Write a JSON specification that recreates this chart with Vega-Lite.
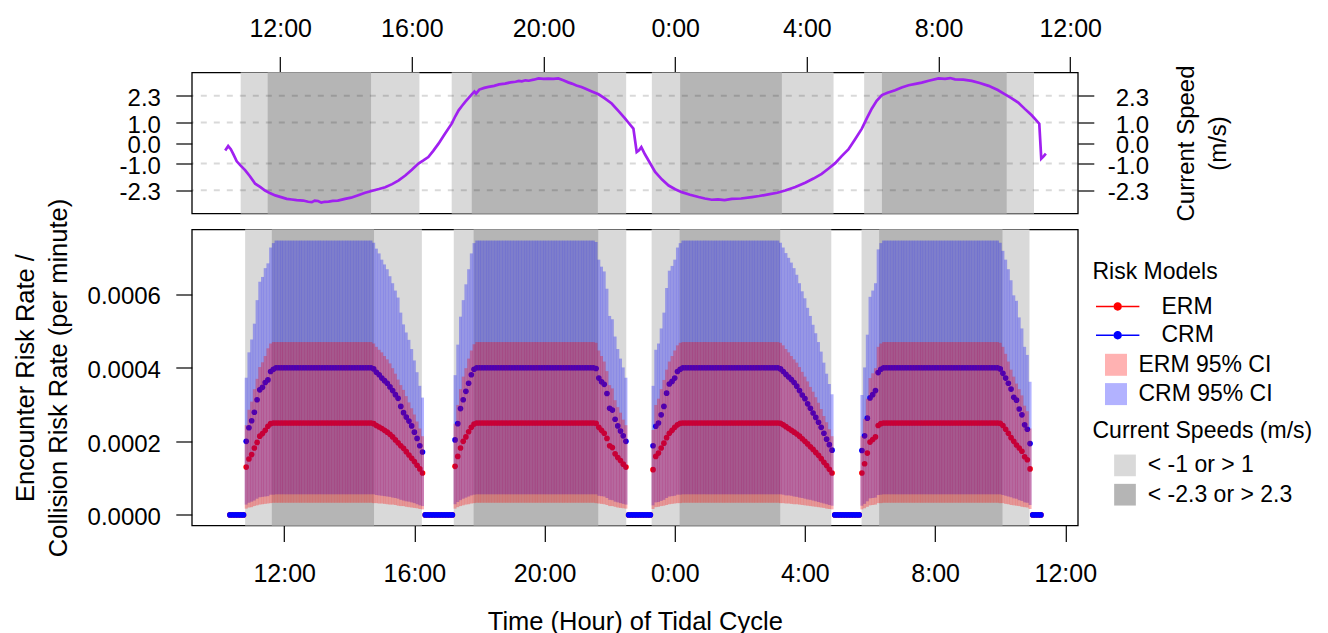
{
"$schema": "https://vega.github.io/schema/vega-lite/v6.json",
"background": "white",
"padding": {"left": 12.8, "top": 14.5, "right": 5, "bottom": 0},
"config": {
  "view": {"stroke": "black", "strokeWidth": 1.3},
  "font": "Liberation Sans",
  "axis": {"domain": false, "grid": false, "tickColor": "black", "tickWidth": 1.2, "tickSize": 16, "labelColor": "black", "labelFont": "Liberation Sans", "titleFont": "Liberation Sans", "titleFontWeight": "normal", "titleColor": "black", "labelFlush": false, "labelOverlap": false},
  "legend": {"labelFont": "Liberation Sans", "titleFont": "Liberation Sans", "titleFontWeight": "normal", "labelColor": "black", "titleColor": "black", "labelFontSize": 23, "titleFontSize": 23, "padding": 0, "titleLimit": 400, "labelLimit": 400}
},
"datasets": {
"bands": [
{"start":10.80,"end":16.23,"kind":"< -1 or > 1"},
{"start":17.21,"end":22.51,"kind":"< -1 or > 1"},
{"start":23.29,"end":28.81,"kind":"< -1 or > 1"},
{"start":29.74,"end":34.90,"kind":"< -1 or > 1"},
{"start":11.62,"end":14.76,"kind":"< -2.3 or > 2.3"},
{"start":17.82,"end":21.65,"kind":"< -2.3 or > 2.3"},
{"start":24.15,"end":27.24,"kind":"< -2.3 or > 2.3"},
{"start":30.28,"end":34.07,"kind":"< -2.3 or > 2.3"}
],
"grid": [{"v":2.3},{"v":1},{"v":-1},{"v":-2.3}],
"speed": [
{"t":10.33,"s":-0.36},{"t":10.42,"s":-0.15},{"t":10.5,"s":-0.3},{"t":10.58,"s":-0.55},{"t":10.68,"s":-0.89},{"t":10.8,"s":-1.1},{"t":10.94,"s":-1.33},{"t":11.08,"s":-1.62},{"t":11.24,"s":-1.98},{"t":11.4,"s":-2.15},{"t":11.54,"s":-2.31},{"t":11.7,"s":-2.45},{"t":11.85,"s":-2.55},{"t":12.0,"s":-2.62},{"t":12.2,"s":-2.72},{"t":12.35,"s":-2.75},{"t":12.5,"s":-2.78},{"t":12.7,"s":-2.8},{"t":12.85,"s":-2.86},{"t":12.96,"s":-2.88},{"t":13.05,"s":-2.8},{"t":13.15,"s":-2.82},{"t":13.25,"s":-2.9},{"t":13.35,"s":-2.86},{"t":13.47,"s":-2.85},{"t":13.6,"s":-2.82},{"t":13.75,"s":-2.8},{"t":13.97,"s":-2.72},{"t":14.15,"s":-2.66},{"t":14.35,"s":-2.55},{"t":14.58,"s":-2.42},{"t":14.8,"s":-2.32},{"t":15.0,"s":-2.24},{"t":15.19,"s":-2.15},{"t":15.4,"s":-2.0},{"t":15.6,"s":-1.82},{"t":15.8,"s":-1.58},{"t":16.0,"s":-1.3},{"t":16.2,"s":-1.0},{"t":16.35,"s":-0.85},{"t":16.5,"s":-0.68},{"t":16.65,"s":-0.38},{"t":16.81,"s":-0.03},{"t":17.01,"s":0.46},{"t":17.21,"s":0.94},{"t":17.32,"s":1.3},{"t":17.42,"s":1.59},{"t":17.52,"s":1.8},{"t":17.62,"s":2.0},{"t":17.72,"s":2.18},{"t":17.82,"s":2.37},{"t":17.9,"s":2.5},{"t":17.95,"s":2.4},{"t":18.05,"s":2.6},{"t":18.2,"s":2.68},{"t":18.33,"s":2.73},{"t":18.5,"s":2.78},{"t":18.65,"s":2.85},{"t":18.83,"s":2.89},{"t":19.0,"s":2.95},{"t":19.15,"s":2.98},{"t":19.25,"s":3.02},{"t":19.34,"s":3.0},{"t":19.45,"s":3.05},{"t":19.55,"s":3.03},{"t":19.7,"s":3.08},{"t":19.85,"s":3.14},{"t":20.0,"s":3.12},{"t":20.15,"s":3.13},{"t":20.3,"s":3.12},{"t":20.45,"s":3.14},{"t":20.6,"s":3.05},{"t":20.75,"s":2.95},{"t":20.86,"s":2.89},{"t":21.0,"s":2.8},{"t":21.15,"s":2.72},{"t":21.26,"s":2.65},{"t":21.45,"s":2.52},{"t":21.67,"s":2.37},{"t":21.85,"s":2.18},{"t":22.07,"s":1.92},{"t":22.28,"s":1.55},{"t":22.48,"s":1.19},{"t":22.6,"s":0.95},{"t":22.73,"s":0.7},{"t":22.83,"s":-0.44},{"t":22.9,"s":-0.35},{"t":22.97,"s":-0.2},{"t":23.08,"s":-0.55},{"t":23.19,"s":-0.85},{"t":23.39,"s":-1.41},{"t":23.6,"s":-1.78},{"t":23.8,"s":-2.07},{"t":24.0,"s":-2.25},{"t":24.2,"s":-2.39},{"t":24.45,"s":-2.52},{"t":24.71,"s":-2.63},{"t":24.9,"s":-2.7},{"t":25.11,"s":-2.76},{"t":25.3,"s":-2.74},{"t":25.5,"s":-2.78},{"t":25.72,"s":-2.72},{"t":26.0,"s":-2.7},{"t":26.33,"s":-2.63},{"t":26.55,"s":-2.58},{"t":26.83,"s":-2.5},{"t":27.1,"s":-2.42},{"t":27.34,"s":-2.31},{"t":27.65,"s":-2.14},{"t":27.95,"s":-1.93},{"t":28.2,"s":-1.73},{"t":28.45,"s":-1.5},{"t":28.65,"s":-1.25},{"t":28.86,"s":-0.98},{"t":29.05,"s":-0.65},{"t":29.26,"s":-0.31},{"t":29.45,"s":0.15},{"t":29.67,"s":0.7},{"t":29.82,"s":1.2},{"t":29.97,"s":1.67},{"t":30.12,"s":2.05},{"t":30.28,"s":2.33},{"t":30.45,"s":2.45},{"t":30.68,"s":2.57},{"t":30.88,"s":2.7},{"t":31.09,"s":2.81},{"t":31.3,"s":2.88},{"t":31.49,"s":2.94},{"t":31.7,"s":3.03},{"t":32.0,"s":3.14},{"t":32.2,"s":3.12},{"t":32.35,"s":3.16},{"t":32.5,"s":3.1},{"t":32.75,"s":3.08},{"t":33.01,"s":3.02},{"t":33.25,"s":2.92},{"t":33.52,"s":2.78},{"t":33.8,"s":2.58},{"t":34.02,"s":2.37},{"t":34.2,"s":2.2},{"t":34.42,"s":1.97},{"t":34.62,"s":1.66},{"t":34.83,"s":1.35},{"t":35.06,"s":0.94},{"t":35.12,"s":-0.76},{"t":35.19,"s":-0.65},{"t":35.26,"s":-0.52}
],
"risk": [
{"t":10.333,"e":0,"c":0},{"t":10.417,"e":0,"c":0},{"t":10.5,"e":0,"c":0},{"t":10.583,"e":0,"c":0},{"t":10.667,"e":0,"c":0},{"t":10.75,"e":0,"c":0},
{"t":10.833,"e":0.00013,"c":0.0002,"el":0.000017,"eh":0.000244,"cl":0.000028,"ch":0.000373},
{"t":10.917,"e":0.000152,"c":0.000237,"el":0.00002,"eh":0.000286,"cl":0.000033,"ch":0.000442},
{"t":11.0,"e":0.000164,"c":0.000256,"el":0.000021,"eh":0.000308,"cl":0.000036,"ch":0.000477},
{"t":11.083,"e":0.000182,"c":0.000279,"el":0.000024,"eh":0.000342,"cl":0.000039,"ch":0.00052},
{"t":11.167,"e":0.000197,"c":0.000313,"el":0.000026,"eh":0.00037,"cl":0.000044,"ch":0.000584},
{"t":11.25,"e":0.000214,"c":0.00034,"el":0.000028,"eh":0.000402,"cl":0.000048,"ch":0.000634},
{"t":11.333,"e":0.000221,"c":0.000347,"el":0.000029,"eh":0.000415,"cl":0.000049,"ch":0.000647},
{"t":11.417,"e":0.00023,"c":0.00036,"el":0.00003,"eh":0.000432,"cl":0.00005,"ch":0.000671},
{"t":11.5,"e":0.000241,"c":0.000367,"el":0.000031,"eh":0.000453,"cl":0.000051,"ch":0.000684},
{"t":11.583,"e":0.000248,"c":0.00039,"el":0.000032,"eh":0.000466,"cl":0.000055,"ch":0.000727},
{"t":11.667,"e":0.00025,"c":0.000396,"el":0.000033,"eh":0.00047,"cl":0.000055,"ch":0.000739},
{"t":11.75,"e":0.00025,"c":0.0004,"el":0.000033,"eh":0.00047,"cl":0.000056,"ch":0.000746},
{"t":11.833,"e":0.00025,"c":0.0004,"el":0.000033,"eh":0.00047,"cl":0.000056,"ch":0.000746},
{"t":11.917,"e":0.00025,"c":0.0004,"el":0.000033,"eh":0.00047,"cl":0.000056,"ch":0.000746},
{"t":12.0,"e":0.00025,"c":0.0004,"el":0.000033,"eh":0.00047,"cl":0.000056,"ch":0.000746},
{"t":12.083,"e":0.00025,"c":0.0004,"el":0.000033,"eh":0.00047,"cl":0.000056,"ch":0.000746},
{"t":12.167,"e":0.00025,"c":0.0004,"el":0.000033,"eh":0.00047,"cl":0.000056,"ch":0.000746},
{"t":12.25,"e":0.00025,"c":0.0004,"el":0.000033,"eh":0.00047,"cl":0.000056,"ch":0.000746},
{"t":12.333,"e":0.00025,"c":0.0004,"el":0.000033,"eh":0.00047,"cl":0.000056,"ch":0.000746},
{"t":12.417,"e":0.00025,"c":0.0004,"el":0.000033,"eh":0.00047,"cl":0.000056,"ch":0.000746},
{"t":12.5,"e":0.00025,"c":0.0004,"el":0.000033,"eh":0.00047,"cl":0.000056,"ch":0.000746},
{"t":12.583,"e":0.00025,"c":0.0004,"el":0.000033,"eh":0.00047,"cl":0.000056,"ch":0.000746},
{"t":12.667,"e":0.00025,"c":0.0004,"el":0.000033,"eh":0.00047,"cl":0.000056,"ch":0.000746},
{"t":12.75,"e":0.00025,"c":0.0004,"el":0.000033,"eh":0.00047,"cl":0.000056,"ch":0.000746},
{"t":12.833,"e":0.00025,"c":0.0004,"el":0.000033,"eh":0.00047,"cl":0.000056,"ch":0.000746},
{"t":12.917,"e":0.00025,"c":0.0004,"el":0.000033,"eh":0.00047,"cl":0.000056,"ch":0.000746},
{"t":13.0,"e":0.00025,"c":0.0004,"el":0.000033,"eh":0.00047,"cl":0.000056,"ch":0.000746},
{"t":13.083,"e":0.00025,"c":0.0004,"el":0.000033,"eh":0.00047,"cl":0.000056,"ch":0.000746},
{"t":13.167,"e":0.00025,"c":0.0004,"el":0.000033,"eh":0.00047,"cl":0.000056,"ch":0.000746},
{"t":13.25,"e":0.00025,"c":0.0004,"el":0.000033,"eh":0.00047,"cl":0.000056,"ch":0.000746},
{"t":13.333,"e":0.00025,"c":0.0004,"el":0.000033,"eh":0.00047,"cl":0.000056,"ch":0.000746},
{"t":13.417,"e":0.00025,"c":0.0004,"el":0.000033,"eh":0.00047,"cl":0.000056,"ch":0.000746},
{"t":13.5,"e":0.00025,"c":0.0004,"el":0.000033,"eh":0.00047,"cl":0.000056,"ch":0.000746},
{"t":13.583,"e":0.00025,"c":0.0004,"el":0.000033,"eh":0.00047,"cl":0.000056,"ch":0.000746},
{"t":13.667,"e":0.00025,"c":0.0004,"el":0.000033,"eh":0.00047,"cl":0.000056,"ch":0.000746},
{"t":13.75,"e":0.00025,"c":0.0004,"el":0.000033,"eh":0.00047,"cl":0.000056,"ch":0.000746},
{"t":13.833,"e":0.00025,"c":0.0004,"el":0.000033,"eh":0.00047,"cl":0.000056,"ch":0.000746},
{"t":13.917,"e":0.00025,"c":0.0004,"el":0.000033,"eh":0.00047,"cl":0.000056,"ch":0.000746},
{"t":14.0,"e":0.00025,"c":0.0004,"el":0.000033,"eh":0.00047,"cl":0.000056,"ch":0.000746},
{"t":14.083,"e":0.00025,"c":0.0004,"el":0.000033,"eh":0.00047,"cl":0.000056,"ch":0.000746},
{"t":14.167,"e":0.00025,"c":0.0004,"el":0.000033,"eh":0.00047,"cl":0.000056,"ch":0.000746},
{"t":14.25,"e":0.00025,"c":0.0004,"el":0.000033,"eh":0.00047,"cl":0.000056,"ch":0.000746},
{"t":14.333,"e":0.00025,"c":0.0004,"el":0.000033,"eh":0.00047,"cl":0.000056,"ch":0.000746},
{"t":14.417,"e":0.00025,"c":0.0004,"el":0.000033,"eh":0.00047,"cl":0.000056,"ch":0.000746},
{"t":14.5,"e":0.00025,"c":0.0004,"el":0.000033,"eh":0.00047,"cl":0.000056,"ch":0.000746},
{"t":14.583,"e":0.00025,"c":0.0004,"el":0.000033,"eh":0.00047,"cl":0.000056,"ch":0.000746},
{"t":14.667,"e":0.00025,"c":0.0004,"el":0.000033,"eh":0.00047,"cl":0.000056,"ch":0.000746},
{"t":14.75,"e":0.000248,"c":0.000397,"el":0.000032,"eh":0.000466,"cl":0.000056,"ch":0.00074},
{"t":14.833,"e":0.000243,"c":0.000388,"el":0.000032,"eh":0.000457,"cl":0.000054,"ch":0.000724},
{"t":14.917,"e":0.000239,"c":0.000381,"el":0.000031,"eh":0.000449,"cl":0.000053,"ch":0.000711},
{"t":15.0,"e":0.000235,"c":0.000372,"el":0.000031,"eh":0.000442,"cl":0.000052,"ch":0.000694},
{"t":15.083,"e":0.00023,"c":0.000365,"el":0.00003,"eh":0.000432,"cl":0.000051,"ch":0.000681},
{"t":15.167,"e":0.000225,"c":0.000358,"el":0.000029,"eh":0.000423,"cl":0.00005,"ch":0.000668},
{"t":15.25,"e":0.000219,"c":0.000348,"el":0.000028,"eh":0.000412,"cl":0.000049,"ch":0.000649},
{"t":15.333,"e":0.000212,"c":0.000338,"el":0.000028,"eh":0.000399,"cl":0.000047,"ch":0.00063},
{"t":15.417,"e":0.000204,"c":0.000327,"el":0.000027,"eh":0.000384,"cl":0.000046,"ch":0.00061},
{"t":15.5,"e":0.000196,"c":0.000317,"el":0.000025,"eh":0.000368,"cl":0.000044,"ch":0.000591},
{"t":15.583,"e":0.000188,"c":0.000295,"el":0.000024,"eh":0.000353,"cl":0.000041,"ch":0.00055},
{"t":15.667,"e":0.000181,"c":0.000278,"el":0.000024,"eh":0.00034,"cl":0.000039,"ch":0.000518},
{"t":15.75,"e":0.000172,"c":0.000266,"el":0.000022,"eh":0.000323,"cl":0.000037,"ch":0.000496},
{"t":15.833,"e":0.000163,"c":0.000255,"el":0.000021,"eh":0.000306,"cl":0.000036,"ch":0.000476},
{"t":15.917,"e":0.000154,"c":0.000242,"el":0.00002,"eh":0.00029,"cl":0.000034,"ch":0.000451},
{"t":16.0,"e":0.000145,"c":0.000225,"el":0.000019,"eh":0.000273,"cl":0.000032,"ch":0.00042},
{"t":16.083,"e":0.000135,"c":0.000208,"el":0.000018,"eh":0.000254,"cl":0.000029,"ch":0.000388},
{"t":16.167,"e":0.000125,"c":0.000188,"el":0.000016,"eh":0.000235,"cl":0.000026,"ch":0.000351},
{"t":16.25,"e":0.000114,"c":0.000171,"el":0.000015,"eh":0.000214,"cl":0.000024,"ch":0.000319},
{"t":16.333,"e":0,"c":0},{"t":16.417,"e":0,"c":0},{"t":16.5,"e":0,"c":0},{"t":16.583,"e":0,"c":0},{"t":16.667,"e":0,"c":0},{"t":16.75,"e":0,"c":0},{"t":16.833,"e":0,"c":0},{"t":16.917,"e":0,"c":0},{"t":17.0,"e":0,"c":0},{"t":17.083,"e":0,"c":0},{"t":17.167,"e":0,"c":0},
{"t":17.25,"e":0.000132,"c":0.000204,"el":0.000017,"eh":0.000248,"cl":0.000029,"ch":0.00038},
{"t":17.333,"e":0.000159,"c":0.000248,"el":0.000021,"eh":0.000299,"cl":0.000035,"ch":0.000463},
{"t":17.417,"e":0.000182,"c":0.000289,"el":0.000024,"eh":0.000342,"cl":0.00004,"ch":0.000539},
{"t":17.5,"e":0.0002,"c":0.000313,"el":0.000026,"eh":0.000376,"cl":0.000044,"ch":0.000584},
{"t":17.583,"e":0.000212,"c":0.000336,"el":0.000028,"eh":0.000399,"cl":0.000047,"ch":0.000627},
{"t":17.667,"e":0.000226,"c":0.000358,"el":0.000029,"eh":0.000425,"cl":0.00005,"ch":0.000668},
{"t":17.75,"e":0.000238,"c":0.000381,"el":0.000031,"eh":0.000447,"cl":0.000053,"ch":0.000711},
{"t":17.833,"e":0.000247,"c":0.000396,"el":0.000032,"eh":0.000464,"cl":0.000055,"ch":0.000739},
{"t":17.917,"e":0.00025,"c":0.0004,"el":0.000033,"eh":0.00047,"cl":0.000056,"ch":0.000746},
{"t":18.0,"e":0.00025,"c":0.0004,"el":0.000033,"eh":0.00047,"cl":0.000056,"ch":0.000746},
{"t":18.083,"e":0.00025,"c":0.0004,"el":0.000033,"eh":0.00047,"cl":0.000056,"ch":0.000746},
{"t":18.167,"e":0.00025,"c":0.0004,"el":0.000033,"eh":0.00047,"cl":0.000056,"ch":0.000746},
{"t":18.25,"e":0.00025,"c":0.0004,"el":0.000033,"eh":0.00047,"cl":0.000056,"ch":0.000746},
{"t":18.333,"e":0.00025,"c":0.0004,"el":0.000033,"eh":0.00047,"cl":0.000056,"ch":0.000746},
{"t":18.417,"e":0.00025,"c":0.0004,"el":0.000033,"eh":0.00047,"cl":0.000056,"ch":0.000746},
{"t":18.5,"e":0.00025,"c":0.0004,"el":0.000033,"eh":0.00047,"cl":0.000056,"ch":0.000746},
{"t":18.583,"e":0.00025,"c":0.0004,"el":0.000033,"eh":0.00047,"cl":0.000056,"ch":0.000746},
{"t":18.667,"e":0.00025,"c":0.0004,"el":0.000033,"eh":0.00047,"cl":0.000056,"ch":0.000746},
{"t":18.75,"e":0.00025,"c":0.0004,"el":0.000033,"eh":0.00047,"cl":0.000056,"ch":0.000746},
{"t":18.833,"e":0.00025,"c":0.0004,"el":0.000033,"eh":0.00047,"cl":0.000056,"ch":0.000746},
{"t":18.917,"e":0.00025,"c":0.0004,"el":0.000033,"eh":0.00047,"cl":0.000056,"ch":0.000746},
{"t":19.0,"e":0.00025,"c":0.0004,"el":0.000033,"eh":0.00047,"cl":0.000056,"ch":0.000746},
{"t":19.083,"e":0.00025,"c":0.0004,"el":0.000033,"eh":0.00047,"cl":0.000056,"ch":0.000746},
{"t":19.167,"e":0.00025,"c":0.0004,"el":0.000033,"eh":0.00047,"cl":0.000056,"ch":0.000746},
{"t":19.25,"e":0.00025,"c":0.0004,"el":0.000033,"eh":0.00047,"cl":0.000056,"ch":0.000746},
{"t":19.333,"e":0.00025,"c":0.0004,"el":0.000033,"eh":0.00047,"cl":0.000056,"ch":0.000746},
{"t":19.417,"e":0.00025,"c":0.0004,"el":0.000033,"eh":0.00047,"cl":0.000056,"ch":0.000746},
{"t":19.5,"e":0.00025,"c":0.0004,"el":0.000033,"eh":0.00047,"cl":0.000056,"ch":0.000746},
{"t":19.583,"e":0.00025,"c":0.0004,"el":0.000033,"eh":0.00047,"cl":0.000056,"ch":0.000746},
{"t":19.667,"e":0.00025,"c":0.0004,"el":0.000033,"eh":0.00047,"cl":0.000056,"ch":0.000746},
{"t":19.75,"e":0.00025,"c":0.0004,"el":0.000033,"eh":0.00047,"cl":0.000056,"ch":0.000746},
{"t":19.833,"e":0.00025,"c":0.0004,"el":0.000033,"eh":0.00047,"cl":0.000056,"ch":0.000746},
{"t":19.917,"e":0.00025,"c":0.0004,"el":0.000033,"eh":0.00047,"cl":0.000056,"ch":0.000746},
{"t":20.0,"e":0.00025,"c":0.0004,"el":0.000033,"eh":0.00047,"cl":0.000056,"ch":0.000746},
{"t":20.083,"e":0.00025,"c":0.0004,"el":0.000033,"eh":0.00047,"cl":0.000056,"ch":0.000746},
{"t":20.167,"e":0.00025,"c":0.0004,"el":0.000033,"eh":0.00047,"cl":0.000056,"ch":0.000746},
{"t":20.25,"e":0.00025,"c":0.0004,"el":0.000033,"eh":0.00047,"cl":0.000056,"ch":0.000746},
{"t":20.333,"e":0.00025,"c":0.0004,"el":0.000033,"eh":0.00047,"cl":0.000056,"ch":0.000746},
{"t":20.417,"e":0.00025,"c":0.0004,"el":0.000033,"eh":0.00047,"cl":0.000056,"ch":0.000746},
{"t":20.5,"e":0.00025,"c":0.0004,"el":0.000033,"eh":0.00047,"cl":0.000056,"ch":0.000746},
{"t":20.583,"e":0.00025,"c":0.0004,"el":0.000033,"eh":0.00047,"cl":0.000056,"ch":0.000746},
{"t":20.667,"e":0.00025,"c":0.0004,"el":0.000033,"eh":0.00047,"cl":0.000056,"ch":0.000746},
{"t":20.75,"e":0.00025,"c":0.0004,"el":0.000033,"eh":0.00047,"cl":0.000056,"ch":0.000746},
{"t":20.833,"e":0.00025,"c":0.0004,"el":0.000033,"eh":0.00047,"cl":0.000056,"ch":0.000746},
{"t":20.917,"e":0.00025,"c":0.0004,"el":0.000033,"eh":0.00047,"cl":0.000056,"ch":0.000746},
{"t":21.0,"e":0.00025,"c":0.0004,"el":0.000033,"eh":0.00047,"cl":0.000056,"ch":0.000746},
{"t":21.083,"e":0.00025,"c":0.0004,"el":0.000033,"eh":0.00047,"cl":0.000056,"ch":0.000746},
{"t":21.167,"e":0.00025,"c":0.0004,"el":0.000033,"eh":0.00047,"cl":0.000056,"ch":0.000746},
{"t":21.25,"e":0.00025,"c":0.0004,"el":0.000033,"eh":0.00047,"cl":0.000056,"ch":0.000746},
{"t":21.333,"e":0.00025,"c":0.0004,"el":0.000033,"eh":0.00047,"cl":0.000056,"ch":0.000746},
{"t":21.417,"e":0.00025,"c":0.0004,"el":0.000033,"eh":0.00047,"cl":0.000056,"ch":0.000746},
{"t":21.5,"e":0.00025,"c":0.0004,"el":0.000033,"eh":0.00047,"cl":0.000056,"ch":0.000746},
{"t":21.583,"e":0.000249,"c":0.000398,"el":0.000032,"eh":0.000468,"cl":0.000056,"ch":0.000742},
{"t":21.667,"e":0.000238,"c":0.000372,"el":0.000031,"eh":0.000447,"cl":0.000052,"ch":0.000694},
{"t":21.75,"e":0.00023,"c":0.000362,"el":0.00003,"eh":0.000432,"cl":0.000051,"ch":0.000675},
{"t":21.833,"e":0.000222,"c":0.000355,"el":0.000029,"eh":0.000417,"cl":0.00005,"ch":0.000662},
{"t":21.917,"e":0.000208,"c":0.00033,"el":0.000027,"eh":0.000391,"cl":0.000046,"ch":0.000615},
{"t":22.0,"e":0.000188,"c":0.00029,"el":0.000024,"eh":0.000353,"cl":0.000041,"ch":0.000541},
{"t":22.083,"e":0.000183,"c":0.000285,"el":0.000024,"eh":0.000344,"cl":0.00004,"ch":0.000532},
{"t":22.167,"e":0.000166,"c":0.00026,"el":0.000022,"eh":0.000312,"cl":0.000036,"ch":0.000485},
{"t":22.25,"e":0.000156,"c":0.000242,"el":0.00002,"eh":0.000293,"cl":0.000034,"ch":0.000451},
{"t":22.333,"e":0.000148,"c":0.000228,"el":0.000019,"eh":0.000278,"cl":0.000032,"ch":0.000425},
{"t":22.417,"e":0.000138,"c":0.000215,"el":0.000018,"eh":0.000259,"cl":0.00003,"ch":0.000401},
{"t":22.5,"e":0.00013,"c":0.0002,"el":0.000017,"eh":0.000244,"cl":0.000028,"ch":0.000373},
{"t":22.583,"e":0,"c":0},{"t":22.667,"e":0,"c":0},{"t":22.75,"e":0,"c":0},{"t":22.833,"e":0,"c":0},{"t":22.917,"e":0,"c":0},{"t":23.0,"e":0,"c":0},{"t":23.083,"e":0,"c":0},{"t":23.167,"e":0,"c":0},{"t":23.25,"e":0,"c":0},
{"t":23.333,"e":0.000123,"c":0.000188,"el":0.000016,"eh":0.000231,"cl":0.000026,"ch":0.000351},
{"t":23.417,"e":0.000159,"c":0.000241,"el":0.000021,"eh":0.000299,"cl":0.000034,"ch":0.000449},
{"t":23.5,"e":0.000168,"c":0.00025,"el":0.000022,"eh":0.000316,"cl":0.000035,"ch":0.000466},
{"t":23.583,"e":0.000182,"c":0.000272,"el":0.000024,"eh":0.000342,"cl":0.000038,"ch":0.000507},
{"t":23.667,"e":0.000195,"c":0.000295,"el":0.000025,"eh":0.000367,"cl":0.000041,"ch":0.00055},
{"t":23.75,"e":0.00021,"c":0.000331,"el":0.000027,"eh":0.000395,"cl":0.000046,"ch":0.000617},
{"t":23.833,"e":0.000222,"c":0.000356,"el":0.000029,"eh":0.000417,"cl":0.00005,"ch":0.000664},
{"t":23.917,"e":0.00023,"c":0.000363,"el":0.00003,"eh":0.000432,"cl":0.000051,"ch":0.000677},
{"t":24.0,"e":0.000238,"c":0.000372,"el":0.000031,"eh":0.000447,"cl":0.000052,"ch":0.000694},
{"t":24.083,"e":0.000245,"c":0.00039,"el":0.000032,"eh":0.000461,"cl":0.000055,"ch":0.000727},
{"t":24.167,"e":0.000249,"c":0.000396,"el":0.000032,"eh":0.000468,"cl":0.000055,"ch":0.000739},
{"t":24.25,"e":0.00025,"c":0.0004,"el":0.000033,"eh":0.00047,"cl":0.000056,"ch":0.000746},
{"t":24.333,"e":0.00025,"c":0.0004,"el":0.000033,"eh":0.00047,"cl":0.000056,"ch":0.000746},
{"t":24.417,"e":0.00025,"c":0.0004,"el":0.000033,"eh":0.00047,"cl":0.000056,"ch":0.000746},
{"t":24.5,"e":0.00025,"c":0.0004,"el":0.000033,"eh":0.00047,"cl":0.000056,"ch":0.000746},
{"t":24.583,"e":0.00025,"c":0.0004,"el":0.000033,"eh":0.00047,"cl":0.000056,"ch":0.000746},
{"t":24.667,"e":0.00025,"c":0.0004,"el":0.000033,"eh":0.00047,"cl":0.000056,"ch":0.000746},
{"t":24.75,"e":0.00025,"c":0.0004,"el":0.000033,"eh":0.00047,"cl":0.000056,"ch":0.000746},
{"t":24.833,"e":0.00025,"c":0.0004,"el":0.000033,"eh":0.00047,"cl":0.000056,"ch":0.000746},
{"t":24.917,"e":0.00025,"c":0.0004,"el":0.000033,"eh":0.00047,"cl":0.000056,"ch":0.000746},
{"t":25.0,"e":0.00025,"c":0.0004,"el":0.000033,"eh":0.00047,"cl":0.000056,"ch":0.000746},
{"t":25.083,"e":0.00025,"c":0.0004,"el":0.000033,"eh":0.00047,"cl":0.000056,"ch":0.000746},
{"t":25.167,"e":0.00025,"c":0.0004,"el":0.000033,"eh":0.00047,"cl":0.000056,"ch":0.000746},
{"t":25.25,"e":0.00025,"c":0.0004,"el":0.000033,"eh":0.00047,"cl":0.000056,"ch":0.000746},
{"t":25.333,"e":0.00025,"c":0.0004,"el":0.000033,"eh":0.00047,"cl":0.000056,"ch":0.000746},
{"t":25.417,"e":0.00025,"c":0.0004,"el":0.000033,"eh":0.00047,"cl":0.000056,"ch":0.000746},
{"t":25.5,"e":0.00025,"c":0.0004,"el":0.000033,"eh":0.00047,"cl":0.000056,"ch":0.000746},
{"t":25.583,"e":0.00025,"c":0.0004,"el":0.000033,"eh":0.00047,"cl":0.000056,"ch":0.000746},
{"t":25.667,"e":0.00025,"c":0.0004,"el":0.000033,"eh":0.00047,"cl":0.000056,"ch":0.000746},
{"t":25.75,"e":0.00025,"c":0.0004,"el":0.000033,"eh":0.00047,"cl":0.000056,"ch":0.000746},
{"t":25.833,"e":0.00025,"c":0.0004,"el":0.000033,"eh":0.00047,"cl":0.000056,"ch":0.000746},
{"t":25.917,"e":0.00025,"c":0.0004,"el":0.000033,"eh":0.00047,"cl":0.000056,"ch":0.000746},
{"t":26.0,"e":0.00025,"c":0.0004,"el":0.000033,"eh":0.00047,"cl":0.000056,"ch":0.000746},
{"t":26.083,"e":0.00025,"c":0.0004,"el":0.000033,"eh":0.00047,"cl":0.000056,"ch":0.000746},
{"t":26.167,"e":0.00025,"c":0.0004,"el":0.000033,"eh":0.00047,"cl":0.000056,"ch":0.000746},
{"t":26.25,"e":0.00025,"c":0.0004,"el":0.000033,"eh":0.00047,"cl":0.000056,"ch":0.000746},
{"t":26.333,"e":0.00025,"c":0.0004,"el":0.000033,"eh":0.00047,"cl":0.000056,"ch":0.000746},
{"t":26.417,"e":0.00025,"c":0.0004,"el":0.000033,"eh":0.00047,"cl":0.000056,"ch":0.000746},
{"t":26.5,"e":0.00025,"c":0.0004,"el":0.000033,"eh":0.00047,"cl":0.000056,"ch":0.000746},
{"t":26.583,"e":0.00025,"c":0.0004,"el":0.000033,"eh":0.00047,"cl":0.000056,"ch":0.000746},
{"t":26.667,"e":0.00025,"c":0.0004,"el":0.000033,"eh":0.00047,"cl":0.000056,"ch":0.000746},
{"t":26.75,"e":0.00025,"c":0.0004,"el":0.000033,"eh":0.00047,"cl":0.000056,"ch":0.000746},
{"t":26.833,"e":0.00025,"c":0.0004,"el":0.000033,"eh":0.00047,"cl":0.000056,"ch":0.000746},
{"t":26.917,"e":0.00025,"c":0.0004,"el":0.000033,"eh":0.00047,"cl":0.000056,"ch":0.000746},
{"t":27.0,"e":0.00025,"c":0.0004,"el":0.000033,"eh":0.00047,"cl":0.000056,"ch":0.000746},
{"t":27.083,"e":0.00025,"c":0.0004,"el":0.000033,"eh":0.00047,"cl":0.000056,"ch":0.000746},
{"t":27.167,"e":0.00025,"c":0.0004,"el":0.000033,"eh":0.00047,"cl":0.000056,"ch":0.000746},
{"t":27.25,"e":0.000249,"c":0.000397,"el":0.000032,"eh":0.000468,"cl":0.000056,"ch":0.00074},
{"t":27.333,"e":0.000245,"c":0.00039,"el":0.000032,"eh":0.000461,"cl":0.000055,"ch":0.000727},
{"t":27.417,"e":0.00024,"c":0.000382,"el":0.000031,"eh":0.000451,"cl":0.000053,"ch":0.000712},
{"t":27.5,"e":0.000235,"c":0.000375,"el":0.000031,"eh":0.000442,"cl":0.000053,"ch":0.000699},
{"t":27.583,"e":0.00023,"c":0.000368,"el":0.00003,"eh":0.000432,"cl":0.000052,"ch":0.000686},
{"t":27.667,"e":0.000225,"c":0.00036,"el":0.000029,"eh":0.000423,"cl":0.00005,"ch":0.000671},
{"t":27.75,"e":0.00022,"c":0.00035,"el":0.000029,"eh":0.000414,"cl":0.000049,"ch":0.000653},
{"t":27.833,"e":0.000214,"c":0.000338,"el":0.000028,"eh":0.000402,"cl":0.000047,"ch":0.00063},
{"t":27.917,"e":0.000207,"c":0.000326,"el":0.000027,"eh":0.000389,"cl":0.000046,"ch":0.000608},
{"t":28.0,"e":0.0002,"c":0.000316,"el":0.000026,"eh":0.000376,"cl":0.000044,"ch":0.000589},
{"t":28.083,"e":0.000193,"c":0.000302,"el":0.000025,"eh":0.000363,"cl":0.000042,"ch":0.000563},
{"t":28.167,"e":0.000185,"c":0.00029,"el":0.000024,"eh":0.000348,"cl":0.000041,"ch":0.000541},
{"t":28.25,"e":0.000178,"c":0.000277,"el":0.000023,"eh":0.000335,"cl":0.000039,"ch":0.000517},
{"t":28.333,"e":0.00017,"c":0.000265,"el":0.000022,"eh":0.00032,"cl":0.000037,"ch":0.000494},
{"t":28.417,"e":0.000162,"c":0.000252,"el":0.000021,"eh":0.000305,"cl":0.000035,"ch":0.00047},
{"t":28.5,"e":0.000153,"c":0.000238,"el":0.00002,"eh":0.000288,"cl":0.000033,"ch":0.000444},
{"t":28.583,"e":0.000143,"c":0.000222,"el":0.000019,"eh":0.000269,"cl":0.000031,"ch":0.000414},
{"t":28.667,"e":0.000134,"c":0.000206,"el":0.000017,"eh":0.000252,"cl":0.000029,"ch":0.000384},
{"t":28.75,"e":0.000124,"c":0.000191,"el":0.000016,"eh":0.000233,"cl":0.000027,"ch":0.000356},
{"t":28.833,"e":0.000114,"c":0.000176,"el":0.000015,"eh":0.000214,"cl":0.000025,"ch":0.000328},
{"t":28.917,"e":0,"c":0},{"t":29.0,"e":0,"c":0},{"t":29.083,"e":0,"c":0},{"t":29.167,"e":0,"c":0},{"t":29.25,"e":0,"c":0},{"t":29.333,"e":0,"c":0},{"t":29.417,"e":0,"c":0},{"t":29.5,"e":0,"c":0},{"t":29.583,"e":0,"c":0},{"t":29.667,"e":0,"c":0},
{"t":29.75,"e":0.000114,"c":0.000175,"el":0.000015,"eh":0.000214,"cl":0.000025,"ch":0.000326},
{"t":29.833,"e":0.000139,"c":0.000215,"el":0.000018,"eh":0.000261,"cl":0.00003,"ch":0.000401},
{"t":29.917,"e":0.000168,"c":0.000263,"el":0.000022,"eh":0.000316,"cl":0.000037,"ch":0.00049},
{"t":30.0,"e":0.000198,"c":0.000318,"el":0.000026,"eh":0.000372,"cl":0.000045,"ch":0.000593},
{"t":30.083,"e":0.000205,"c":0.000327,"el":0.000027,"eh":0.000385,"cl":0.000046,"ch":0.00061},
{"t":30.167,"e":0.000212,"c":0.000338,"el":0.000028,"eh":0.000399,"cl":0.000047,"ch":0.00063},
{"t":30.25,"e":0.000243,"c":0.000387,"el":0.000032,"eh":0.000457,"cl":0.000054,"ch":0.000722},
{"t":30.333,"e":0.000248,"c":0.000396,"el":0.000032,"eh":0.000466,"cl":0.000055,"ch":0.000739},
{"t":30.417,"e":0.00025,"c":0.0004,"el":0.000033,"eh":0.00047,"cl":0.000056,"ch":0.000746},
{"t":30.5,"e":0.00025,"c":0.0004,"el":0.000033,"eh":0.00047,"cl":0.000056,"ch":0.000746},
{"t":30.583,"e":0.00025,"c":0.0004,"el":0.000033,"eh":0.00047,"cl":0.000056,"ch":0.000746},
{"t":30.667,"e":0.00025,"c":0.0004,"el":0.000033,"eh":0.00047,"cl":0.000056,"ch":0.000746},
{"t":30.75,"e":0.00025,"c":0.0004,"el":0.000033,"eh":0.00047,"cl":0.000056,"ch":0.000746},
{"t":30.833,"e":0.00025,"c":0.0004,"el":0.000033,"eh":0.00047,"cl":0.000056,"ch":0.000746},
{"t":30.917,"e":0.00025,"c":0.0004,"el":0.000033,"eh":0.00047,"cl":0.000056,"ch":0.000746},
{"t":31.0,"e":0.00025,"c":0.0004,"el":0.000033,"eh":0.00047,"cl":0.000056,"ch":0.000746},
{"t":31.083,"e":0.00025,"c":0.0004,"el":0.000033,"eh":0.00047,"cl":0.000056,"ch":0.000746},
{"t":31.167,"e":0.00025,"c":0.0004,"el":0.000033,"eh":0.00047,"cl":0.000056,"ch":0.000746},
{"t":31.25,"e":0.00025,"c":0.0004,"el":0.000033,"eh":0.00047,"cl":0.000056,"ch":0.000746},
{"t":31.333,"e":0.00025,"c":0.0004,"el":0.000033,"eh":0.00047,"cl":0.000056,"ch":0.000746},
{"t":31.417,"e":0.00025,"c":0.0004,"el":0.000033,"eh":0.00047,"cl":0.000056,"ch":0.000746},
{"t":31.5,"e":0.00025,"c":0.0004,"el":0.000033,"eh":0.00047,"cl":0.000056,"ch":0.000746},
{"t":31.583,"e":0.00025,"c":0.0004,"el":0.000033,"eh":0.00047,"cl":0.000056,"ch":0.000746},
{"t":31.667,"e":0.00025,"c":0.0004,"el":0.000033,"eh":0.00047,"cl":0.000056,"ch":0.000746},
{"t":31.75,"e":0.00025,"c":0.0004,"el":0.000033,"eh":0.00047,"cl":0.000056,"ch":0.000746},
{"t":31.833,"e":0.00025,"c":0.0004,"el":0.000033,"eh":0.00047,"cl":0.000056,"ch":0.000746},
{"t":31.917,"e":0.00025,"c":0.0004,"el":0.000033,"eh":0.00047,"cl":0.000056,"ch":0.000746},
{"t":32.0,"e":0.00025,"c":0.0004,"el":0.000033,"eh":0.00047,"cl":0.000056,"ch":0.000746},
{"t":32.083,"e":0.00025,"c":0.0004,"el":0.000033,"eh":0.00047,"cl":0.000056,"ch":0.000746},
{"t":32.167,"e":0.00025,"c":0.0004,"el":0.000033,"eh":0.00047,"cl":0.000056,"ch":0.000746},
{"t":32.25,"e":0.00025,"c":0.0004,"el":0.000033,"eh":0.00047,"cl":0.000056,"ch":0.000746},
{"t":32.333,"e":0.00025,"c":0.0004,"el":0.000033,"eh":0.00047,"cl":0.000056,"ch":0.000746},
{"t":32.417,"e":0.00025,"c":0.0004,"el":0.000033,"eh":0.00047,"cl":0.000056,"ch":0.000746},
{"t":32.5,"e":0.00025,"c":0.0004,"el":0.000033,"eh":0.00047,"cl":0.000056,"ch":0.000746},
{"t":32.583,"e":0.00025,"c":0.0004,"el":0.000033,"eh":0.00047,"cl":0.000056,"ch":0.000746},
{"t":32.667,"e":0.00025,"c":0.0004,"el":0.000033,"eh":0.00047,"cl":0.000056,"ch":0.000746},
{"t":32.75,"e":0.00025,"c":0.0004,"el":0.000033,"eh":0.00047,"cl":0.000056,"ch":0.000746},
{"t":32.833,"e":0.00025,"c":0.0004,"el":0.000033,"eh":0.00047,"cl":0.000056,"ch":0.000746},
{"t":32.917,"e":0.00025,"c":0.0004,"el":0.000033,"eh":0.00047,"cl":0.000056,"ch":0.000746},
{"t":33.0,"e":0.00025,"c":0.0004,"el":0.000033,"eh":0.00047,"cl":0.000056,"ch":0.000746},
{"t":33.083,"e":0.00025,"c":0.0004,"el":0.000033,"eh":0.00047,"cl":0.000056,"ch":0.000746},
{"t":33.167,"e":0.00025,"c":0.0004,"el":0.000033,"eh":0.00047,"cl":0.000056,"ch":0.000746},
{"t":33.25,"e":0.00025,"c":0.0004,"el":0.000033,"eh":0.00047,"cl":0.000056,"ch":0.000746},
{"t":33.333,"e":0.00025,"c":0.0004,"el":0.000033,"eh":0.00047,"cl":0.000056,"ch":0.000746},
{"t":33.417,"e":0.00025,"c":0.0004,"el":0.000033,"eh":0.00047,"cl":0.000056,"ch":0.000746},
{"t":33.5,"e":0.00025,"c":0.0004,"el":0.000033,"eh":0.00047,"cl":0.000056,"ch":0.000746},
{"t":33.583,"e":0.00025,"c":0.0004,"el":0.000033,"eh":0.00047,"cl":0.000056,"ch":0.000746},
{"t":33.667,"e":0.00025,"c":0.0004,"el":0.000033,"eh":0.00047,"cl":0.000056,"ch":0.000746},
{"t":33.75,"e":0.00025,"c":0.0004,"el":0.000033,"eh":0.00047,"cl":0.000056,"ch":0.000746},
{"t":33.833,"e":0.00025,"c":0.0004,"el":0.000033,"eh":0.00047,"cl":0.000056,"ch":0.000746},
{"t":33.917,"e":0.00025,"c":0.0004,"el":0.000033,"eh":0.00047,"cl":0.000056,"ch":0.000746},
{"t":34.0,"e":0.000249,"c":0.000397,"el":0.000032,"eh":0.000468,"cl":0.000056,"ch":0.00074},
{"t":34.083,"e":0.000243,"c":0.000385,"el":0.000032,"eh":0.000457,"cl":0.000054,"ch":0.000718},
{"t":34.167,"e":0.000233,"c":0.000372,"el":0.00003,"eh":0.000438,"cl":0.000052,"ch":0.000694},
{"t":34.25,"e":0.000222,"c":0.000358,"el":0.000029,"eh":0.000417,"cl":0.00005,"ch":0.000668},
{"t":34.333,"e":0.00021,"c":0.000342,"el":0.000027,"eh":0.000395,"cl":0.000048,"ch":0.000638},
{"t":34.417,"e":0.0002,"c":0.00032,"el":0.000026,"eh":0.000376,"cl":0.000045,"ch":0.000597},
{"t":34.5,"e":0.00019,"c":0.000312,"el":0.000025,"eh":0.000357,"cl":0.000044,"ch":0.000582},
{"t":34.583,"e":0.000182,"c":0.000288,"el":0.000024,"eh":0.000342,"cl":0.00004,"ch":0.000537},
{"t":34.667,"e":0.000173,"c":0.000272,"el":0.000022,"eh":0.000325,"cl":0.000038,"ch":0.000507},
{"t":34.75,"e":0.000158,"c":0.000245,"el":0.000021,"eh":0.000297,"cl":0.000034,"ch":0.000457},
{"t":34.833,"e":0.00015,"c":0.000233,"el":0.00002,"eh":0.000282,"cl":0.000033,"ch":0.000435},
{"t":34.917,"e":0.000125,"c":0.000194,"el":0.000016,"eh":0.000235,"cl":0.000027,"ch":0.000362},
{"t":35.0,"e":0,"c":0},{"t":35.083,"e":0,"c":0},{"t":35.167,"e":0,"c":0},{"t":35.25,"e":0,"c":0}
]
},
"spacing": 16,
"bounds": "flush",
"resolve": {"scale": {"x": "independent", "y": "independent"}},
"vconcat": [
{
  "width": 886, "height": 141,
  "layer": [
    {
      "data": {"name": "bands"},
      "transform": [{"filter": "datum.kind == '< -1 or > 1'"}],
      "mark": {"type": "rect", "color": "#D9D9D9"},
      "encoding": {
        "x": {"field": "start", "type": "quantitative", "title": null, "scale": {"domain": [9.315, 36.23], "nice": false, "zero": false},
              "axis": {"orient": "top", "values": [12, 16, 20, 24, 28, 32, 36], "labelExpr": "(datum.value % 24) + ':00'", "labelFontSize": 25, "labelPadding": 15.45, "tickSize": 16}},
        "x2": {"field": "end"}
      }
    },
    {
      "data": {"name": "bands"},
      "transform": [{"filter": "datum.kind == '< -2.3 or > 2.3'"}],
      "mark": {"type": "rect", "color": "#B5B5B5"},
      "encoding": {
        "x": {"field": "start", "type": "quantitative", "title": null, "scale": {"domain": [9.315, 36.23], "nice": false, "zero": false}},
        "x2": {"field": "end"}
      }
    },
    {
      "data": {"name": "grid"},
      "mark": {"type": "rule", "color": "black", "opacity": 0.15, "strokeWidth": 2, "strokeDash": [6, 7]},
      "encoding": {
        "y": {"field": "v", "type": "quantitative", "title": ["Current Speed", "(m/s)"], "scale": {"domain": [-3.43, 3.43], "nice": false, "zero": false},
              "axis": {"orient": "right", "values": [2.3, 1, 0, -1, -2.3], "labelExpr": "datum.value < 0 ? '-' + format(-datum.value, '.1f') : format(datum.value, '.1f')", "labelFontSize": 24, "labelAlign": "right", "labelPadding": 54.7, "labelOffset": 2.7, "tickSize": 16,
                       "titleFontSize": 24, "titleAngle": 270, "titleLineHeight": 32, "titleBaseline": "middle", "titleAlign": "center", "titleX": 108.7, "titleY": 70.5}}
      }
    },
    {
      "data": {"name": "speed"},
      "mark": {"type": "line", "color": "#A020F0", "strokeWidth": 2.7},
      "encoding": {
        "x": {"field": "t", "type": "quantitative", "title": null, "scale": {"domain": [9.315, 36.23], "nice": false, "zero": false}},
        "y": {"field": "s", "type": "quantitative", "title": null, "scale": {"domain": [-3.43, 3.43], "nice": false, "zero": false},
              "axis": {"orient": "left", "values": [2.3, 1, 0, -1, -2.3], "labelExpr": "datum.value < 0 ? '-' + format(-datum.value, '.1f') : format(datum.value, '.1f')", "labelFontSize": 24, "labelPadding": 15.4, "labelOffset": 2.7, "tickSize": 16}}
      }
    }
  ],
  "resolve": {"axis": {"y": "independent"}}
},
{
  "width": 886, "height": 296,
  "layer": [
    {
      "data": {"name": "bands"},
      "mark": {"type": "rect"},
      "encoding": {
        "x": {"field": "start", "type": "quantitative", "title": "Time (Hour) of Tidal Cycle", "scale": {"domain": [9.315, 36.23], "nice": false, "zero": false},
              "axis": {"orient": "bottom", "values": [12, 16, 20, 24, 28, 32, 36], "labelExpr": "(datum.value % 24) + ':00'", "labelFontSize": 25, "labelPadding": 20.25, "tickSize": 16,
                       "titleFontSize": 25.5, "titleBaseline": "alphabetic", "titleX": 443, "titleY": 103.7}},
        "x2": {"field": "end"},
        "fill": {"field": "kind", "type": "nominal",
                 "scale": {"domain": ["< -1 or > 1", "< -2.3 or > 2.3"], "range": ["#D9D9D9", "#B5B5B5"]},
                 "legend": {"title": "Current Speeds (m/s)", "orient": "none", "legendX": 900.7, "legendY": 191, "symbolType": "square", "symbolSize": 471, "symbolOffset": 21, "labelOffset": 11.3, "rowPadding": 5.3, "titlePadding": 10.4, "symbolStrokeWidth": 0, "symbolOpacity": 1}}
      }
    },
    {
      "layer": [
        {
          "data": {"name": "risk"},
          "mark": {"type": "circle", "size": 32, "opacity": 1},
          "encoding": {
            "x": {"field": "t", "type": "quantitative", "title": "Time (Hour) of Tidal Cycle", "scale": {"domain": [9.315, 36.23], "nice": false, "zero": false}},
            "y": {"field": "e", "type": "quantitative", "title": ["Encounter Risk Rate /", "Collision Risk Rate (per minute)"], "scale": {"domain": [-0.0000288, 0.000776], "nice": false, "zero": false},
                  "axis": {"orient": "left", "values": [0, 0.0002, 0.0004, 0.0006], "format": ".4f", "labelFontSize": 24, "labelPadding": 15.4, "labelOffset": 2.7, "tickSize": 16,
                           "titleFontSize": 25.5, "titleAngle": 270, "titleLineHeight": 33, "titleBaseline": "middle", "titleAlign": "center", "titleX": -166.3, "titleY": 148}},
            "color": {"datum": "ERM", "type": "nominal", "scale": {"domain": ["ERM", "CRM"], "range": ["#FF0000", "#0000FF"]},
                      "legend": {"title": "Risk Models", "orient": "none", "legendX": 900.7, "legendY": 188.1, "symbolType": "M-2.17,-0.07H-0.42V0.07H-2.17Z M0.42,-0.07H2.17V0.07H0.42Z M0.42,0A0.42,0.42,0,1,1,-0.42,0A0.42,0.42,0,1,1,0.42,0Z", "symbolSize": 400, "symbolOffset": 13.7, "labelOffset": 32.3, "rowPadding": 4.7, "titlePadding": 11.4, "symbolStrokeWidth": 0, "symbolOpacity": 1}}
          }
        },
        {
          "data": {"name": "risk"},
          "mark": {"type": "circle", "size": 32, "opacity": 1},
          "encoding": {
            "x": {"field": "t", "type": "quantitative", "title": "Time (Hour) of Tidal Cycle", "scale": {"domain": [9.315, 36.23], "nice": false, "zero": false}},
            "y": {"field": "c", "type": "quantitative", "title": ["Encounter Risk Rate /", "Collision Risk Rate (per minute)"], "scale": {"domain": [-0.0000288, 0.000776], "nice": false, "zero": false}},
            "color": {"datum": "CRM", "type": "nominal", "scale": {"domain": ["ERM", "CRM"], "range": ["#FF0000", "#0000FF"]}}
          }
        },
        {
          "data": {"name": "risk"},
          "mark": {"type": "bar", "width": 3, "opacity": 0.3},
          "encoding": {
            "x": {"field": "t", "type": "quantitative", "title": "Time (Hour) of Tidal Cycle", "scale": {"domain": [9.315, 36.23], "nice": false, "zero": false}},
            "y": {"field": "ch", "type": "quantitative", "title": ["Encounter Risk Rate /", "Collision Risk Rate (per minute)"], "scale": {"domain": [-0.0000288, 0.000776], "nice": false, "zero": false}},
            "y2": {"field": "cl"},
            "fill": {"datum": "CRM 95% CI", "type": "nominal", "scale": {"domain": ["ERM 95% CI", "CRM 95% CI"], "range": ["#FF0000", "#0000FF"]}}
          }
        },
        {
          "data": {"name": "risk"},
          "mark": {"type": "bar", "width": 3, "opacity": 0.3},
          "encoding": {
            "x": {"field": "t", "type": "quantitative", "title": "Time (Hour) of Tidal Cycle", "scale": {"domain": [9.315, 36.23], "nice": false, "zero": false}},
            "y": {"field": "eh", "type": "quantitative", "title": ["Encounter Risk Rate /", "Collision Risk Rate (per minute)"], "scale": {"domain": [-0.0000288, 0.000776], "nice": false, "zero": false}},
            "y2": {"field": "el"},
            "fill": {"datum": "ERM 95% CI", "type": "nominal", "scale": {"domain": ["ERM 95% CI", "CRM 95% CI"], "range": ["#FF0000", "#0000FF"]},
                     "legend": {"title": null, "orient": "none", "legendX": 912.7, "legendY": 123.8, "symbolType": "square", "symbolSize": 484, "labelOffset": 11, "rowPadding": 5.3, "symbolStrokeWidth": 0, "symbolOpacity": 0.3}}
          }
        }
      ]
    }
  ],
  "resolve": {"scale": {"fill": "independent"}}
}
]
}
